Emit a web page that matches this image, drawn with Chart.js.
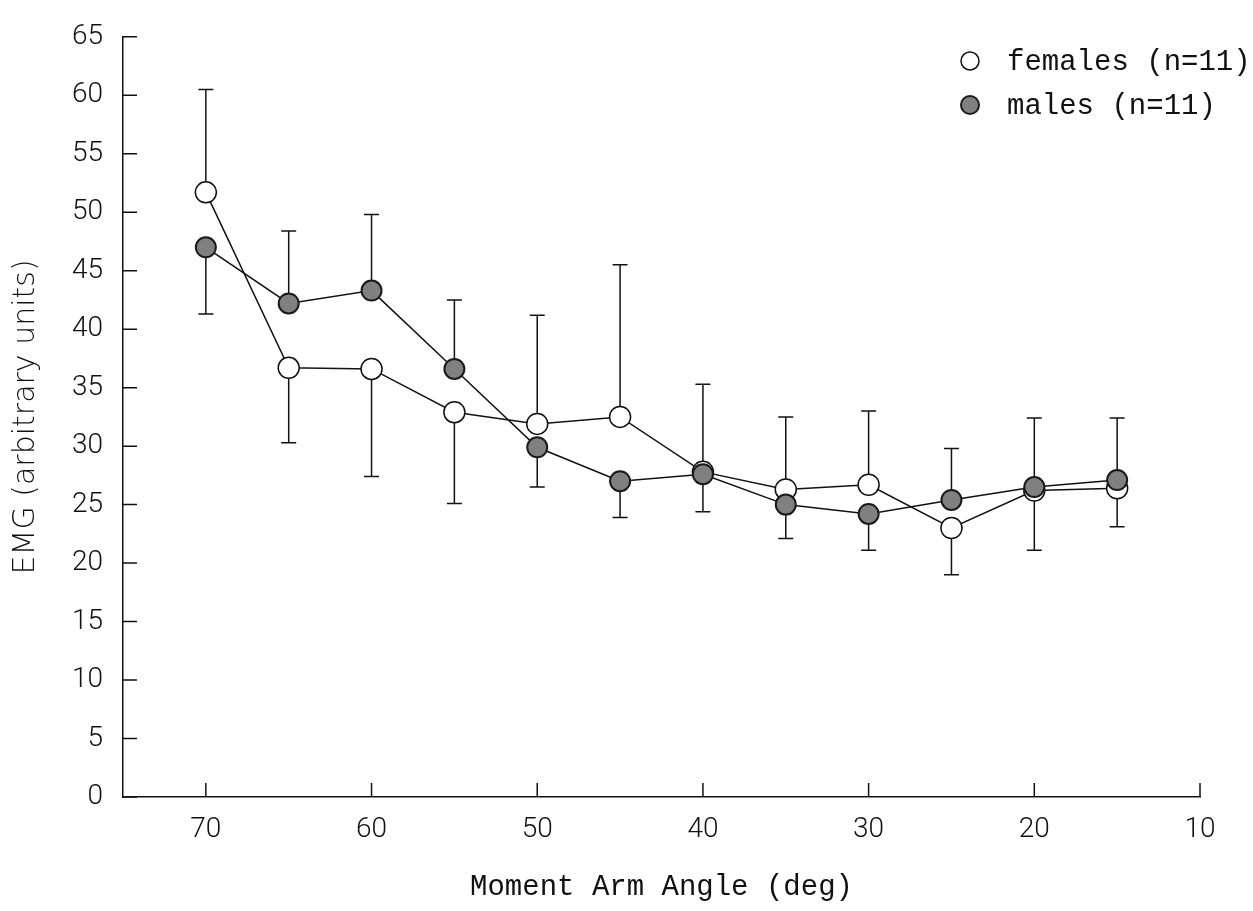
<!DOCTYPE html>
<html>
<head>
<meta charset="utf-8">
<script src="https://cdn.jsdelivr.net/npm/chart.js@4.4.1/dist/chart.umd.min.js"></script>
<style>
  html, body { margin: 0; padding: 0; background: #fff; }
  #wrap { width: 1253px; height: 911px; position: relative; }
</style>
</head>
<body>
<div id="wrap"><canvas id="grafico"></canvas></div>
<script>
// valores
const angles = [70, 65, 60, 55, 50, 45, 40, 35, 30, 25, 20, 15];
const females = [51.7, 36.7, 36.6, 32.9, 31.9, 32.5, 27.8, 26.3, 26.7, 23.0, 26.2, 26.4];
const males = [47.0, 42.2, 43.3, 36.6, 29.9, 27.0, 27.6, 25.0, 24.2, 25.4, 26.5, 27.1];
// extremos de las barras de error (una hacia arriba, otra hacia abajo)
const errTop = [60.5, 48.4, 49.8, 42.5, 41.2, 45.5, 35.3, 32.5, 33.0, 29.8, 32.4, 32.4];
const errBottom = [41.3, 30.3, 27.4, 25.1, 26.5, 23.9, 24.4, 22.1, 21.1, 19.0, 21.1, 23.1];

const xTicks = [70, 60, 50, 40, 30, 20, 10];
const yTicks = [0, 5, 10, 15, 20, 25, 30, 35, 40, 45, 50, 55, 60, 65];

const legendLabels = ['females (n=11)', 'males (n=11)'];

const toPts = (ys) => angles.map((a, i) => ({ x: a, y: ys[i] }));

const INK = '#111';
const MALE_FILL = '#808080';

// barras de error, dibujadas debajo de los puntos
const errorBars = {
  id: 'errorBars',
  beforeDatasetsDraw(chart) {
    const { ctx, scales: { x, y } } = chart;
    ctx.save();
    ctx.strokeStyle = INK;
    ctx.lineWidth = 1.5;
    angles.forEach((a, i) => {
      const px = x.getPixelForValue(a);
      const hi = Math.max(females[i], males[i]);
      const lo = Math.min(females[i], males[i]);
      const yHi = y.getPixelForValue(hi);
      const yLo = y.getPixelForValue(lo);
      const yT = y.getPixelForValue(errTop[i]);
      const yB = y.getPixelForValue(errBottom[i]);
      ctx.beginPath();
      ctx.moveTo(px, yHi); ctx.lineTo(px, yT);
      ctx.moveTo(px - 7.5, yT); ctx.lineTo(px + 7.5, yT);
      ctx.moveTo(px, yLo); ctx.lineTo(px, yB);
      ctx.moveTo(px - 7.5, yB); ctx.lineTo(px + 7.5, yB);
      ctx.stroke();
    });
    ctx.restore();
  }
};

// marcas de los ejes hacia adentro
const innerTicks = {
  id: 'innerTicks',
  beforeDatasetsDraw(chart) {
    const { ctx, scales: { x, y }, chartArea } = chart;
    ctx.save();
    ctx.strokeStyle = INK;
    ctx.lineWidth = 1.5;
    ctx.beginPath();
    yTicks.forEach(v => {
      const py = y.getPixelForValue(v);
      ctx.moveTo(chartArea.left, py);
      ctx.lineTo(chartArea.left + 14, py);
    });
    xTicks.forEach(v => {
      const px = x.getPixelForValue(v);
      ctx.moveTo(px, chartArea.bottom);
      ctx.lineTo(px, chartArea.bottom - 14);
    });
    ctx.stroke();
    ctx.restore();
  }
};

// leyenda dentro del área, arriba a la derecha
const cornerLegend = {
  id: 'cornerLegend',
  afterDraw(chart) {
    const { ctx } = chart;
    const styles = [
      { fill: '#fff', stroke: INK, w: 1.5 },
      { fill: MALE_FILL, stroke: '#1a1a1a', w: 2 }
    ];
    ctx.save();
    ctx.font = '29px "Liberation Mono", "DejaVu Sans Mono", monospace';
    ctx.textBaseline = 'middle';
    ctx.fillStyle = INK;
    legendLabels.forEach((txt, i) => {
      const cy = 61 + i * 44;
      const s = styles[i];
      ctx.beginPath();
      ctx.arc(970, cy, 9, 0, Math.PI * 2);
      ctx.fillStyle = s.fill;
      ctx.fill();
      ctx.lineWidth = s.w;
      ctx.strokeStyle = s.stroke;
      ctx.stroke();
      ctx.fillStyle = INK;
      ctx.fillText(txt, 1007, cy + 1);
    });
    ctx.restore();
  }
};

const ctx = document.getElementById('grafico').getContext('2d');
new Chart(ctx, {
  type: 'line',
  data: {
    datasets: [
      {
        label: 'males (points)',
        data: toPts(males),
        showLine: false,
        pointRadius: 10,
        pointBackgroundColor: MALE_FILL,
        pointBorderColor: '#1a1a1a',
        pointBorderWidth: 2
      },
      {
        label: 'females (points)',
        data: toPts(females),
        showLine: false,
        pointRadius: 10.5,
        pointBackgroundColor: '#fff',
        pointBorderColor: INK,
        pointBorderWidth: 1.5
      },
      {
        label: 'males',
        data: toPts(males),
        borderColor: INK,
        borderWidth: 1.5,
        pointRadius: 0,
        tension: 0
      },
      {
        label: 'females',
        data: toPts(females),
        borderColor: INK,
        borderWidth: 1.5,
        pointRadius: 0,
        tension: 0
      }
    ]
  },
  options: {
    responsive: true,
    maintainAspectRatio: false,
    animation: false,
    layout: { padding: { top: 23, right: 53, left: 0, bottom: 0 } },
    plugins: {
      legend: { display: false },
      tooltip: { enabled: false },
      title: { display: false }
    },
    scales: {
      x: {
        type: 'linear',
        min: 10,
        max: 75,
        reverse: true,
        afterBuildTicks: (s) => { s.ticks = xTicks.map(v => ({ value: v })); },
        afterFit: (s) => { s.height = 114; },
        grid: { display: false, drawTicks: false },
        border: { display: true, color: INK, width: 1.5 },
        ticks: {
          color: INK,
          padding: 16,
          maxRotation: 0,
          font: { family: 'Roboto, "DejaVu Sans", sans-serif', size: 28, weight: 300 }
        },
        title: {
          display: true,
          text: 'Moment Arm Angle (deg)',
          color: INK,
          padding: { top: 0, bottom: 6 },
          font: { family: '"Liberation Mono", "DejaVu Sans Mono", monospace', size: 29 }
        }
      },
      y: {
        type: 'linear',
        min: 0,
        max: 65,
        afterBuildTicks: (s) => { s.ticks = yTicks.map(v => ({ value: v })); },
        afterFit: (s) => { s.width = 123; },
        grid: { display: false, drawTicks: false },
        border: { display: true, color: INK, width: 1.5 },
        ticks: {
          color: INK,
          padding: 20,
          font: { family: 'Roboto, "DejaVu Sans", sans-serif', size: 28, weight: 300 }
        },
        title: {
          display: true,
          text: 'EMG (arbitrary units)',
          color: INK,
          padding: { top: 8, bottom: 0 },
          font: { family: '"DejaVu Sans", sans-serif', size: 30, weight: 200 }
        }
      }
    }
  },
  plugins: [errorBars, innerTicks, cornerLegend]
});
</script>
</body>
</html>
